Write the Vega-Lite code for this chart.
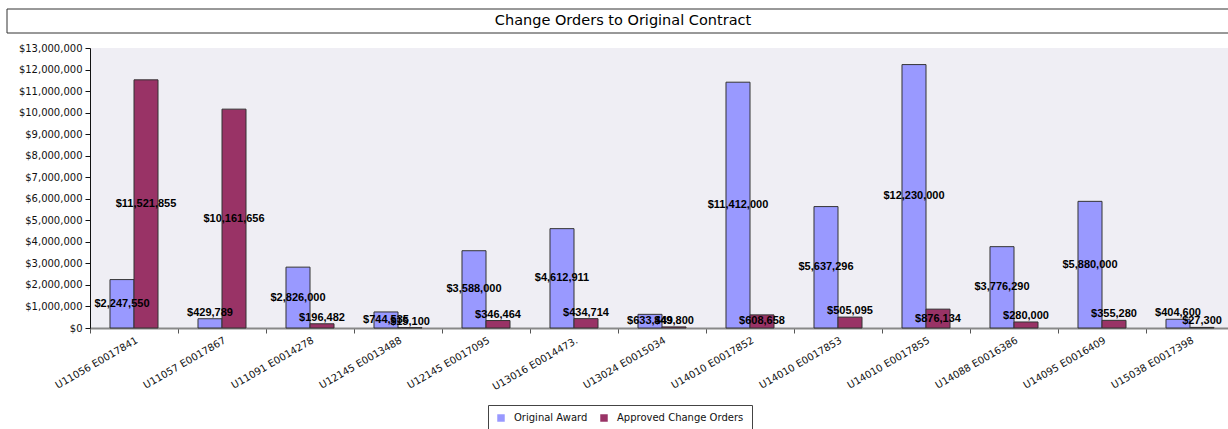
{
  "$schema": "https://vega.github.io/schema/vega-lite/v6.json",
  "padding": {"left": 6, "top": 8, "right": 0, "bottom": 0},
  "background": "white",
  "config": {"font": "DejaVu Sans", "view": {"stroke": null}},
  "spacing": 9,
  "columns": 1,
  "concat": [
    {
      "width": 1144,
      "height": 24,
      "data": {"values": [{"t": "Change Orders to Original Contract"}]},
      "layer": [
        {
          "mark": {"type": "rect", "stroke": "#333", "strokeWidth": 1, "fill": "white"},
          "encoding": {
            "x": {"datum": 0, "type": "quantitative", "scale": {"domain": [0, 1], "range": [-83, 1149]}, "axis": null},
            "x2": {"datum": 1}
          }
        },
        {
          "mark": {"type": "text", "fontSize": 14.5, "baseline": "middle", "color": "black"},
          "encoding": {
            "x": {"datum": 0.5, "type": "quantitative", "axis": null},
            "text": {"field": "t"}
          }
        }
      ]
    },
    {
      "width": 1144,
      "height": 280,
      "view": {"fill": "#efeef4", "stroke": null},
      "data": {"values": [
        {"contract": "U11056 E0017841", "series": "Original Award", "value": 2247550},
        {"contract": "U11056 E0017841", "series": "Approved Change Orders", "value": 11521855},
        {"contract": "U11057 E0017867", "series": "Original Award", "value": 429789},
        {"contract": "U11057 E0017867", "series": "Approved Change Orders", "value": 10161656},
        {"contract": "U11091 E0014278", "series": "Original Award", "value": 2826000},
        {"contract": "U11091 E0014278", "series": "Approved Change Orders", "value": 196482},
        {"contract": "U12145 E0013488", "series": "Original Award", "value": 744535},
        {"contract": "U12145 E0013488", "series": "Approved Change Orders", "value": 15100},
        {"contract": "U12145 E0017095", "series": "Original Award", "value": 3588000},
        {"contract": "U12145 E0017095", "series": "Approved Change Orders", "value": 346464},
        {"contract": "U13016 E0014473.", "series": "Original Award", "value": 4612911},
        {"contract": "U13016 E0014473.", "series": "Approved Change Orders", "value": 434714},
        {"contract": "U13024 E0015034", "series": "Original Award", "value": 633449},
        {"contract": "U13024 E0015034", "series": "Approved Change Orders", "value": 49800},
        {"contract": "U14010 E0017852", "series": "Original Award", "value": 11412000},
        {"contract": "U14010 E0017852", "series": "Approved Change Orders", "value": 608658},
        {"contract": "U14010 E0017853", "series": "Original Award", "value": 5637296},
        {"contract": "U14010 E0017853", "series": "Approved Change Orders", "value": 505095},
        {"contract": "U14010 E0017855", "series": "Original Award", "value": 12230000},
        {"contract": "U14010 E0017855", "series": "Approved Change Orders", "value": 876134},
        {"contract": "U14088 E0016386", "series": "Original Award", "value": 3776290},
        {"contract": "U14088 E0016386", "series": "Approved Change Orders", "value": 280000},
        {"contract": "U14095 E0016409", "series": "Original Award", "value": 5880000},
        {"contract": "U14095 E0016409", "series": "Approved Change Orders", "value": 355280},
        {"contract": "U15038 E0017398", "series": "Original Award", "value": 404600},
        {"contract": "U15038 E0017398", "series": "Approved Change Orders", "value": 27300}
      ]},
      "layer": [
        {
          "mark": {"type": "bar", "stroke": "#333", "strokeWidth": 1},
          "encoding": {
            "x": {
              "field": "contract", "type": "nominal", "sort": null, "title": null,
              "scale": {"paddingInner": 0, "paddingOuter": 0},
              "axis": {
                "labelAngle": -30, "labelFontSize": 10, "labelColor": "#111",
                "tickBand": "extent", "tickSize": 5, "tickColor": "#555",
                "domainColor": "#888", "domainWidth": 2, "labelPadding": 2
              }
            },
            "xOffset": {
              "field": "series", "type": "nominal",
              "sort": ["Original Award", "Approved Change Orders"],
              "scale": {"paddingOuter": 0.833, "paddingInner": 0}
            },
            "y": {
              "field": "value", "type": "quantitative", "title": null,
              "scale": {"domain": [0, 13000000], "nice": false},
              "axis": {
                "values": [0,1000000,2000000,3000000,4000000,5000000,6000000,7000000,8000000,9000000,10000000,11000000,12000000,13000000],
                "format": "$,.0f", "labelFontSize": 10, "labelColor": "#111",
                "tickSize": 5, "tickColor": "#111", "domainColor": "#111",
                "grid": false, "labelPadding": 3
              }
            },
            "color": {
              "field": "series", "type": "nominal",
              "sort": ["Original Award", "Approved Change Orders"],
              "scale": {"range": ["#9999ff", "#993366"]},
              "legend": {
                "title": null, "orient": "none", "legendX": 398, "legendY": 396,
                "direction": "horizontal",
                "symbolType": "square", "symbolSize": 56, "symbolStrokeWidth": 0,
                "labelFontSize": 10, "labelColor": "#111", "labelOffset": 8,
                "strokeColor": "#444", "fillColor": "white", "padding": 8,
                "columnPadding": 11
              }
            }
          }
        },
        {
          "transform": [{"filter": "datum.value >= 550000"}],
          "mark": {"type": "text", "font": "Liberation Sans", "fontWeight": "bold", "fontSize": 11, "baseline": "middle", "color": "black"},
          "encoding": {
            "x": {"field": "contract", "type": "nominal", "sort": null},
            "xOffset": {"field": "series", "type": "nominal", "sort": ["Original Award", "Approved Change Orders"]},
            "y": {"field": "value", "type": "quantitative", "scale": {"domain": [0, 26000000], "nice": false}, "axis": null},
            "text": {"field": "value", "type": "quantitative", "format": "$,.0f"}
          }
        },
        {
          "transform": [{"filter": "datum.value < 550000"}],
          "mark": {"type": "text", "font": "Liberation Sans", "fontWeight": "bold", "fontSize": 11, "baseline": "middle", "dy": -6, "color": "black"},
          "encoding": {
            "x": {"field": "contract", "type": "nominal", "sort": null},
            "xOffset": {"field": "series", "type": "nominal", "sort": ["Original Award", "Approved Change Orders"]},
            "y": {"field": "value", "type": "quantitative", "scale": {"domain": [0, 13000000], "nice": false}, "axis": null},
            "text": {"field": "value", "type": "quantitative", "format": "$,.0f"}
          }
        }
      ],
      "resolve": {"scale": {"y": "independent"}}
    }
  ]
}
